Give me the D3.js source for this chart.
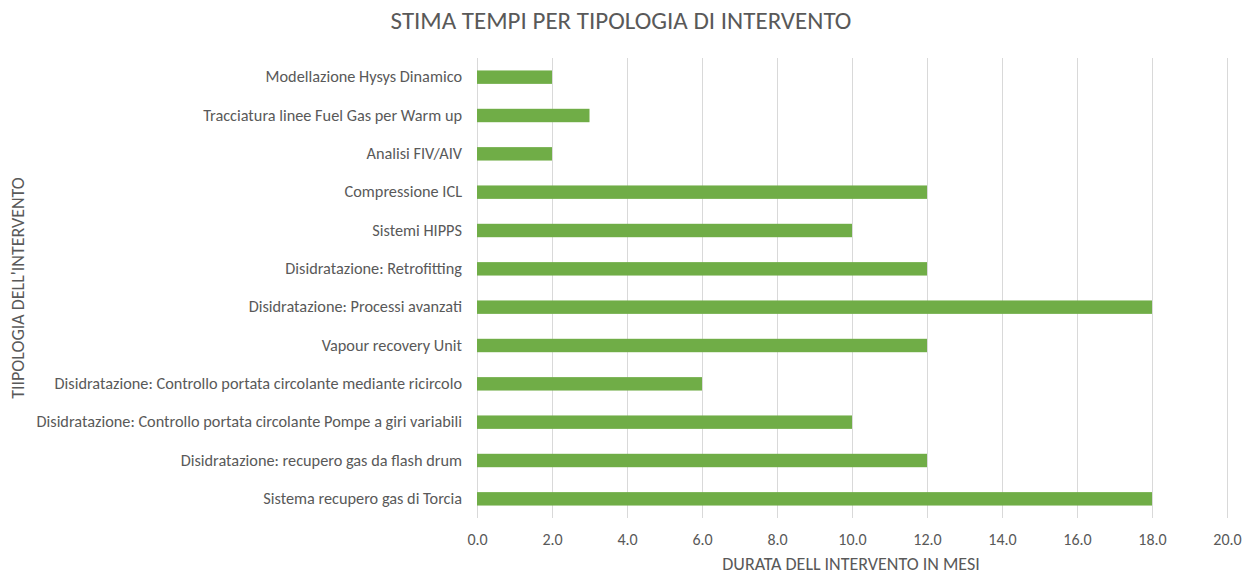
<!DOCTYPE html>
<html>
<head>
<meta charset="utf-8">
<script src="https://cdn.jsdelivr.net/npm/d3@7"></script>
<style>
  body { margin: 0; background: #fff; }
  svg text { font-family: Carlito, Calibri, "Open Sans", sans-serif; fill: #595959; }
</style>
</head>
<body>
<svg></svg>
<script>
var categories = [
  'Modellazione Hysys Dinamico',
  'Tracciatura linee Fuel Gas per Warm up',
  'Analisi FIV/AIV',
  'Compressione ICL',
  'Sistemi HIPPS',
  'Disidratazione: Retrofitting ',
  'Disidratazione: Processi avanzati',
  'Vapour recovery Unit',
  'Disidratazione: Controllo portata circolante mediante ricircolo',
  'Disidratazione: Controllo portata circolante Pompe a giri variabili',
  'Disidratazione: recupero gas da flash drum',
  'Sistema recupero gas di Torcia'
];
var months = [2, 3, 2, 12, 10, 12, 18, 12, 6, 10, 12, 18];
var xTicks = [0, 2, 4, 6, 8, 10, 12, 14, 16, 18, 20];

var width = 1243;
var height = 575;
var margin = {top: 58, right: 16, bottom: 57, left: 477};

var svg = d3.select('svg')
            .attr('width', width)
            .attr('height', height);

var xScale = d3.scaleLinear()
               .domain([0, 20])
               .range([margin.left, width - margin.right]);

var yScale = d3.scaleBand()
               .domain(categories)
               .range([margin.top, height - margin.bottom])
               .paddingInner(0.65)
               .paddingOuter(0.325);

// gridlines
svg.append('g')
    .selectAll('line')
    .data(xTicks)
    .enter()
    .append('line')
      .attr('x1', d => Math.round(xScale(d)) + 0.5)
      .attr('x2', d => Math.round(xScale(d)) + 0.5)
      .attr('y1', margin.top)
      .attr('y2', height - margin.bottom)
      .attr('stroke', '#d9d9d9')
      .attr('stroke-width', 1);

svg.append('g')
    .selectAll('rect')
    .data(months)
    .enter()
    .append('rect')
      .attr('x', xScale(0))
      .attr('y', (d, i) => yScale(categories[i]))
      .attr('width', d => xScale(d) - xScale(0))
      .attr('height', yScale.bandwidth())
      .attr('fill', '#70ad47');

// x axis
var xAxis = svg.append('g')
    .attr('transform', 'translate(0,' + (height - margin.bottom) + ')')
    .call(d3.axisBottom(xScale).tickValues(xTicks).tickFormat(d3.format('.1f')).tickSize(0).tickPadding(16));
xAxis.select('.domain').remove();
xAxis.selectAll('text').style('font-size', '16px').attr('fill', '#595959');

// y axis
var yAxis = svg.append('g')
    .attr('transform', 'translate(' + margin.left + ',0)')
    .call(d3.axisLeft(yScale).tickSize(0).tickPadding(15));
yAxis.select('.domain').remove();
yAxis.selectAll('text').style('font-size', '16.3px').attr('fill', '#595959');

svg.append('text')
    .text('STIMA TEMPI PER TIPOLOGIA DI INTERVENTO')
    .attr('x', 621)
    .attr('y', 29)
    .attr('text-anchor', 'middle')
    .style('font-size', '25px');

svg.append('text')
    .text('DURATA DELL INTERVENTO IN MESI')
    .attr('x', 851)
    .attr('y', 570)
    .attr('text-anchor', 'middle')
    .style('font-size', '18px');

svg.append('text')
    .text("TIIPOLOGIA DELL'INTERVENTO")
    .attr('transform', 'rotate(-90)')
    .attr('x', -288)
    .attr('y', 24)
    .attr('text-anchor', 'middle')
    .style('font-size', '18px');
</script>
</body>
</html>
